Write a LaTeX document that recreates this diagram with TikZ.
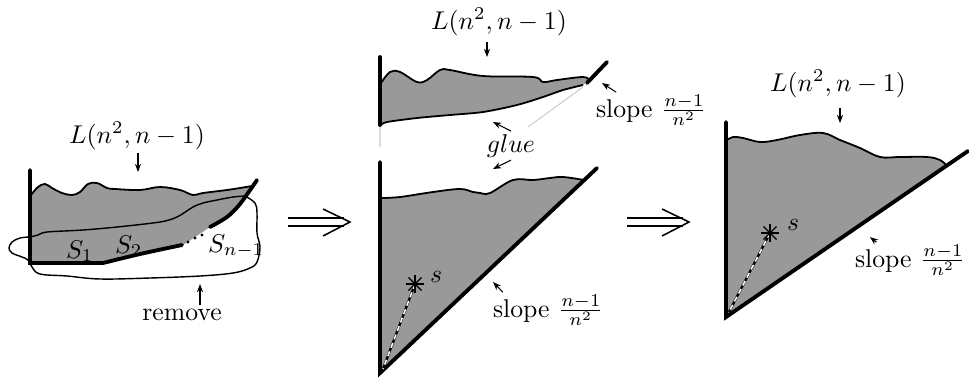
\documentclass[tikz,border=0pt]{standalone}
\usepackage{amsmath}
\usepackage{tikz}
\usetikzlibrary{arrows.meta}
\definecolor{slab}{gray}{0.6}
\definecolor{slabfaint}{gray}{0.8}

\begin{document}
\begin{tikzpicture}[x=0.389pt,y=-0.389pt,
    wall/.style={line width=1.5pt,line cap=round},
    wave/.style={line width=0.7pt},
    cut/.style={line width=0.55pt},
    pointer/.style={-{Stealth[length=3.2pt,width=2.4pt]},line width=0.4pt},
    implies/.style={line width=0.6pt},
    lbl/.style={inner sep=1pt},
    spoke/.style={line width=0.5pt}]
  \useasboundingbox (0,0) rectangle (969,377);
  % left: the piece and what gets removed
  \fill[slab] (31,263) -- plot[smooth,tension=0.6] coordinates {(31,195) (38,187)
    (45,184) (52,188) (62,193) (72,195) (80,192) (88,184) (97,183) (107,188)
    (115,189) (140,190) (160,187) (180,190) (193,195) (203,193) (227,190)
    (240,188) (252,186)} -- (243,200) -- (227,217) -- (210,227) -- (183,245)
    -- (140,254) -- (103,263) -- cycle;
  \draw[wave] plot[smooth,tension=0.6] coordinates {(31,195) (38,187) (45,184)
    (52,188) (62,193) (72,195) (80,192) (88,184) (97,183) (107,188) (115,189)
    (140,190) (160,187) (180,190) (193,195) (203,193) (227,190) (240,188)
    (252,186)};
  \draw[cut] plot[smooth,tension=0.5] coordinates {(30,237) (38,235) (47,232)
    (83,230) (117,227) (160,222) (177,217) (193,207) (203,203) (217,200)
    (233,197) (245,196)};
  \draw[cut] plot[smooth,tension=0.6] coordinates {(30,237) (20,238) (12,242)
    (9,248) (12,253) (22,257) (28,260) (32,267) (40,274) (67,276) (100,279)
    (150,278) (200,276) (233,273) (250,268) (257,262) (260,247) (257,233)
    (257,213) (255,203) (245,196)};
  \draw[wall] (30,170) -- (30,263) -- (103,263)
    -- plot[smooth] coordinates {(103,263) (140,254) (182,245)};
  \draw[wall] plot[smooth] coordinates {(210,227) (227,217) (240,204) (257,180)};
  \foreach \p in {(188,242),(195,238),(202,235)}
    {\fill \p circle (0.6pt);}
  \node[lbl,anchor=base west] (sone) at (63,258) {$S_1$};
  \node[lbl,anchor=base west] (stwo) at (112,253) {$S_2$};
  \node[lbl,anchor=base west] (slast) at (205,252) {$S_{n-1}$};
  \node[lbl,anchor=base] (labL) at (137,143) {$L(n^2,n-1)$};
  \coordinate (tipL) at (138,172);
  \draw[pointer] (labL.south -| tipL) -- (tipL);
  \node[lbl,anchor=base] (remove) at (182,320) {remove};
  \coordinate (tipRm) at (200,284);
  \draw[pointer] (remove.north -| tipRm) -- (tipRm);

  % implication arrows
  \foreach \x in {288,627}{
    \draw[implies] (\x,218) -- ++(56,0) (\x,226) -- ++(56,0);
    \draw[implies] (\x+35,209) -- (\x+62,222) -- (\x+35,236);
  }

  % middle, upper piece
  \fill[slab] (381,125) -- plot[smooth,tension=0.6] coordinates {(381,83)
    (390,72) (400,72) (417,82) (427,80) (440,70) (450,70) (483,76) (533,77)
    (543,82) (557,80) (583,77) (589,80)} -- plot[smooth,tension=0.5]
    coordinates {(583,85) (563,90) (543,97) (517,105) (483,112) (450,115)
    (417,118) (387,122) (381,125)} -- cycle;
  \draw[wave] plot[smooth,tension=0.6] coordinates {(381,83) (390,72) (400,72)
    (417,82) (427,80) (440,70) (450,70) (483,76) (533,77) (543,82) (557,80)
    (583,77) (589,80)};
  \draw[wave] plot[smooth,tension=0.5] coordinates {(583,85) (563,90) (543,97)
    (517,105) (483,112) (450,115) (417,118) (387,122) (381,125)};
  \draw[slabfaint,line width=0.4pt] (380,125) -- (380,147) (583,87) -- (528,127);
  \draw[wall] (380,57) -- (380,125);
  \draw[wall] (587,83) -- (607,62);
  \node[lbl,anchor=base] (labM) at (499,29) {$L(n^2,n-1)$};
  \coordinate (tipM) at (487,57);
  \draw[pointer,shorten <=1.5pt] (labM.south -| tipM) -- (tipM);
  \node[lbl,anchor=base west] (slopeA) at (593,117) {slope $\frac{n-1}{n^2}$};
  \coordinate (tipA) at (602,83);
  \draw[pointer] ([xshift=9pt]slopeA.north west) -- (tipA);
  \node[lbl,anchor=base] (glue) at (511,152) {$glue$};
  \coordinate (tipGa) at (493,122);
  \coordinate (tipGb) at (493,169);
  \draw[pointer] (glue.north) -- (tipGa);
  \draw[pointer] (glue.south) -- (tipGb);

  % middle, lower piece
  \fill[slab] (381,372) -- plot[smooth,tension=0.6] coordinates {(381,198)
    (400,197) (433,192) (460,189) (473,192) (480,193) (490,193) (513,180)
    (533,180) (550,178) (563,177) (584,180)} -- cycle;
  \draw[wave] plot[smooth,tension=0.6] coordinates {(381,198) (400,197)
    (433,192) (460,189) (473,192) (480,193) (490,193) (513,180) (533,180)
    (550,178) (563,177) (584,180)};
  \draw[wall] (380,162) -- (380,373) -- (597,168);
  \coordinate (starM) at (415,284);
  \coordinate (cornerM) at (383,369);
  \draw[line width=0.9pt] (starM) -- (cornerM);
  \draw[white,line width=0.6pt,dash pattern=on 2pt off 1.5pt] (starM) -- (cornerM);
  \foreach \a in {0,45,90,135}
    {\draw[spoke,shift={(starM)}] (\a:3.6pt) -- (\a+180:3.6pt);}
  \node[lbl,anchor=base west] (sM) at (427,282) {$s$};
  \node[lbl,anchor=base west] (slopeB) at (490,317) {slope $\frac{n-1}{n^2}$};
  \coordinate (tipB) at (493,282);
  \draw[pointer] ([xshift=5pt]slopeB.north west) -- (tipB);

  % right: glued result
  \fill[slab] (727,316) -- plot[smooth,tension=0.6] coordinates {(727,140)
    (733,137) (743,138) (760,142) (777,140) (800,135) (823,133) (840,140)
    (860,148) (880,157) (900,157) (927,157) (940,160) (947,166)} -- cycle;
  \draw[wave] plot[smooth,tension=0.6] coordinates {(727,140) (733,137)
    (743,138) (760,142) (777,140) (800,135) (823,133) (840,140) (860,148)
    (880,157) (900,157) (927,157) (940,160) (947,166)};
  \draw[wall] (726,122) -- (726,317) -- (968,151);
  \coordinate (starR) at (770,233);
  \coordinate (cornerR) at (729,312);
  \draw[line width=0.9pt] (starR) -- (cornerR);
  \draw[white,line width=0.6pt,dash pattern=on 2pt off 1.5pt] (starR) -- (cornerR);
  \foreach \a in {0,45,90,135}
    {\draw[spoke,shift={(starR)}] (\a:3.6pt) -- (\a+180:3.6pt);}
  \node[lbl,anchor=base west] (sR) at (784,230) {$s$};
  \node[lbl,anchor=base] (labR) at (838,91) {$L(n^2,n-1)$};
  \coordinate (tipR) at (840,123);
  \draw[pointer,shorten <=3pt] (labR.south -| tipR) -- (tipR);
  \node[lbl,anchor=base west] (slopeC) at (852,267) {slope $\frac{n-1}{n^2}$};
  \coordinate (tipC) at (870,237);
  \draw[pointer] ([xshift=9.5pt]slopeC.north west) -- (tipC);
\end{tikzpicture}
\end{document}
